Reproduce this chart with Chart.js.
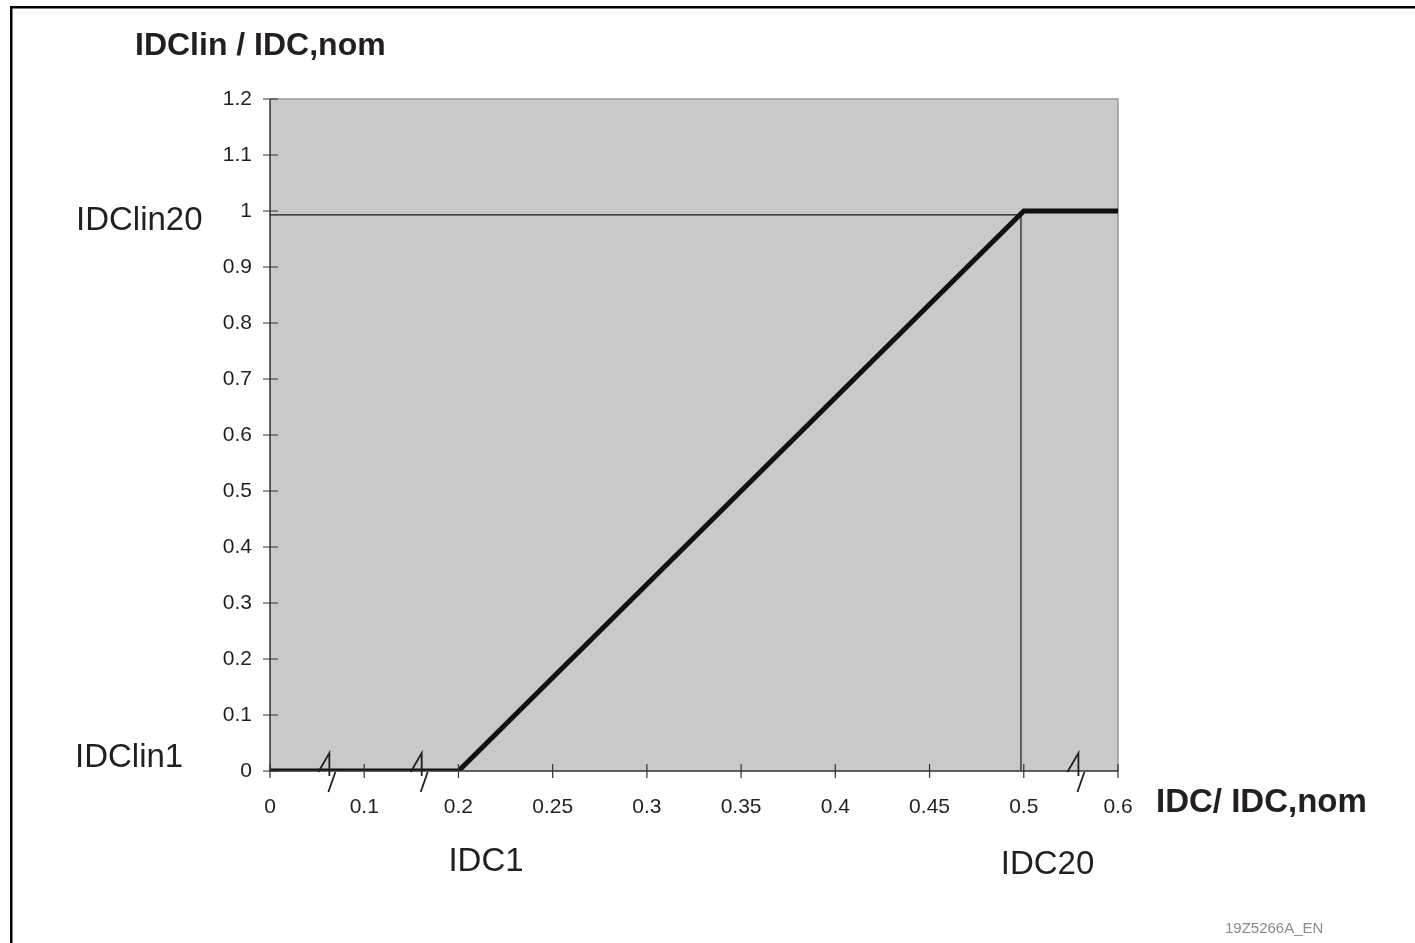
<!DOCTYPE html>
<html>
<head>
<meta charset="utf-8">
<title>IDClin / IDC,nom</title>
<script src="https://cdn.jsdelivr.net/npm/chart.js@4.4.1/dist/chart.umd.min.js"></script>
<style>
  html, body { margin: 0; padding: 0; background: #fff; }
  canvas { display: block; }
</style>
</head>
<body>
<canvas id="chart" width="1415" height="943"></canvas>
<script>
// x axis: evenly spaced labels (the axis is broken between some of them)
const xLabels = ["0", "0.1", "0.2", "0.25", "0.3", "0.35", "0.4", "0.45", "0.5", "0.6"];
const yMax = 1.2;
const yStep = 0.1;

// characteristic curve IDClin / IDC,nom over IDC / IDC,nom
const curveX = ["0", "0.2", "0.5", "0.6"];
const curveY = [0, 0, 1, 1];

// thin reference lines to IDClin20 / IDC20 (slightly off the curve corner in the drawing)
const refX = [0, 7.97, 7.97];
const refY = [0.993, 0.993, 0];

// axis break marks, in x-label index units
const breakX = [0.63, 1.61, 8.58];

const ink = "#231f20";
const font = "'Liberation Sans', Arial, sans-serif";

const idx = (lbl) => xLabels.indexOf(lbl);

const decor = {
    id: "decor",
    beforeDraw(chart) {
        const { ctx, chartArea: a } = chart;
        ctx.save();
        ctx.fillStyle = "#c8c9cb";
        ctx.fillRect(a.left, a.top, a.right - a.left, a.bottom - a.top);
        // top and right edge of plot area
        ctx.strokeStyle = "#9a9a9a";
        ctx.lineWidth = 1.5;
        ctx.beginPath();
        ctx.moveTo(a.left, a.top);
        ctx.lineTo(a.right, a.top);
        ctx.lineTo(a.right, a.bottom);
        ctx.stroke();
        ctx.restore();
    },
    afterDraw(chart) {
        const { ctx, chartArea: a } = chart;
        const xs = chart.scales.x, ys = chart.scales.y;
        ctx.save();

        // frame (left and top only)
        ctx.fillStyle = "#000";
        ctx.fillRect(10, 6, 2.5, 943);
        ctx.fillRect(10, 6, 1405, 2.5);

        // axes
        ctx.strokeStyle = "#333";
        ctx.lineWidth = 1.5;
        ctx.beginPath();
        ctx.moveTo(a.left, a.top);
        ctx.lineTo(a.left, a.bottom);
        ctx.lineTo(a.right, a.bottom);
        ctx.stroke();

        // tick marks crossing the axes
        ctx.lineWidth = 1.2;
        ctx.beginPath();
        ys.ticks.forEach(t => {
            const py = ys.getPixelForValue(t.value);
            ctx.moveTo(a.left - 7, py);
            ctx.lineTo(a.left + 8, py);
        });
        xs.ticks.forEach(t => {
            const px = xs.getPixelForValue(t.value);
            ctx.moveTo(px, a.bottom - 7);
            ctx.lineTo(px, a.bottom + 7);
        });
        ctx.stroke();

        // break marks
        ctx.strokeStyle = ink;
        ctx.lineWidth = 1.8;
        const y0 = ys.getPixelForValue(0);
        breakX.forEach(v => {
            const cx = xs.getPixelForValue(v);
            ctx.beginPath();
            ctx.moveTo(cx - 11, y0 + 1);
            ctx.lineTo(cx, y0 - 18);
            ctx.lineTo(cx, y0 + 5);
            ctx.moveTo(cx + 6, y0 + 1);
            ctx.lineTo(cx - 1, y0 + 21);
            ctx.stroke();
        });

        // texts
        ctx.fillStyle = ink;
        ctx.textBaseline = "alphabetic";
        ctx.textAlign = "left";
        ctx.font = "bold 32px " + font;
        ctx.fillText("IDClin / IDC,nom", 135, 55);
        ctx.font = "bold 33px " + font;
        ctx.fillText("IDC/ IDC,nom", 1156, 812);

        ctx.font = "33px " + font;
        ctx.fillText("IDClin20", 76, ys.getPixelForValue(1) + 19);
        ctx.fillText("IDClin1", 75, ys.getPixelForValue(0) - 4);
        ctx.fillText("IDC1", xs.getPixelForValue(idx("0.2")) - 10, 871);
        ctx.fillText("IDC20", xs.getPixelForValue(idx("0.5")) - 23, 874);

        ctx.font = "15px " + font;
        ctx.fillStyle = "#8a8a8a";
        ctx.fillText("19Z5266A_EN", 1225, 933);
        ctx.restore();
    }
};

new Chart(document.getElementById("chart"), {
    type: "line",
    data: {
        datasets: [
            {
                label: "IDClin / IDC,nom",
                data: curveX.map((x, i) => ({ x: idx(x), y: curveY[i] })),
                borderColor: "#111",
                borderWidth: 5,
                pointRadius: 0,
                tension: 0,
                borderJoinStyle: "miter"
            },
            {
                label: "reference",
                data: refX.map((x, i) => ({ x: x, y: refY[i] })),
                borderColor: "#1a1a1a",
                borderWidth: 1.2,
                pointRadius: 0,
                tension: 0
            }
        ]
    },
    plugins: [decor],
    options: {
        responsive: false,
        animation: false,
        events: [],
        layout: { padding: { top: 99, right: 297, left: 0, bottom: 0 } },
        plugins: {
            legend: { display: false },
            tooltip: { enabled: false }
        },
        scales: {
            x: {
                type: "linear",
                min: 0,
                max: xLabels.length - 1,
                grid: { display: false, drawTicks: false },
                border: { display: false },
                afterFit: (s) => { s.height = 172; },
                afterBuildTicks: (s) => { s.ticks = xLabels.map((l, i) => ({ value: i })); },
                ticks: {
                    padding: 24,
                    color: ink,
                    font: { family: font, size: 21 },
                    maxRotation: 0,
                    autoSkip: false,
                    callback: (v) => xLabels[v]
                }
            },
            y: {
                min: 0,
                max: yMax,
                grid: { display: false, drawTicks: false },
                border: { display: false },
                afterFit: (s) => { s.width = 270; },
                ticks: {
                    stepSize: yStep,
                    padding: 18,
                    color: ink,
                    font: { family: font, size: 21 },
                    callback: (v) => String(Math.round(v * 10) / 10)
                }
            }
        }
    }
});
</script>
</body>
</html>
